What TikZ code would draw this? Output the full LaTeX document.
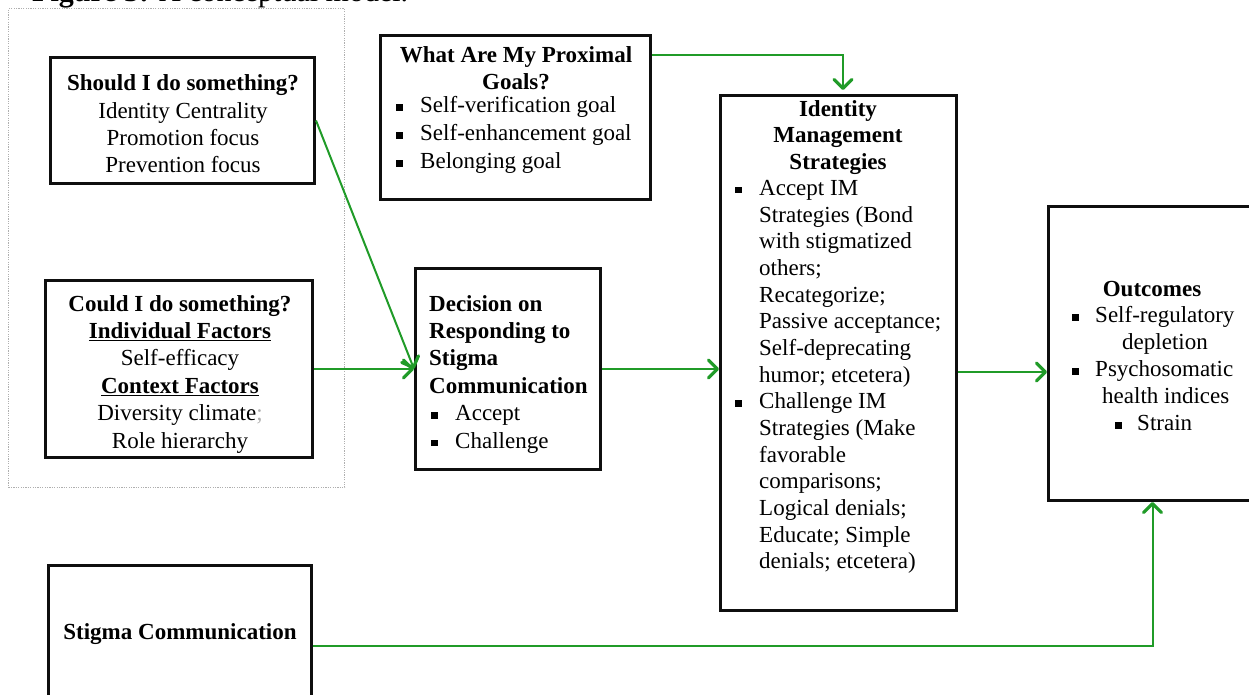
\documentclass[tikz,border=0pt]{standalone}
\usepackage{fontspec}
\setmainfont{Liberation Serif}
\usetikzlibrary{arrows.meta,calc}

\definecolor{flow}{RGB}{32,155,40}
\definecolor{frameline}{RGB}{15,15,15}
\definecolor{faint}{RGB}{175,175,175}

% square bullet, bullet item with hanging text, continuation indent
\newcommand\sqbul{\rule[2pt]{6.5pt}{6.5pt}}
\newcommand\itm{\makebox[24pt][l]{\sqbul}}
\newcommand\ind{\hspace*{24pt}}
% bold text with a heavier underline
\newsavebox\ulbox
\newcommand\ulbf[1]{\sbox\ulbox{\bfseries #1}\rlap{\rule[-3pt]{\wd\ulbox}{1.6pt}}\usebox\ulbox}

\begin{document}
\begin{tikzpicture}[x=1pt,y=-1pt,
  box/.style={draw=frameline, line width=3pt, inner sep=0pt},
  txt/.style={inner sep=0pt, font=\fontsize{23}{27.4}\selectfont},
  groupframe/.style={draw=faint, line width=0.9pt, dash pattern=on 1.2pt off 1.2pt, inner sep=0pt},
  flowline/.style={draw=flow, line width=2pt,
    -{Straight Barb[length=9pt,width=18pt,line width=3.2pt,round]}}]

\useasboundingbox (0,0) rectangle (1249,694);
\clip (0,0) rectangle (1249,694);

% caption line
\node[anchor=base west, inner sep=0pt, font=\fontsize{30}{36}\selectfont] (caption) at (32,1.5)
  {\textbf{Figure 3:} A conceptual model.};

% dotted grouping frame around the two antecedent boxes
\node[groupframe, minimum width=336, minimum height=479] (group) at (176.5,248) {};

% boxes
\node[box, minimum width=264, minimum height=126] (should)   at (182.5,120.5) {};
\node[box, minimum width=267, minimum height=177] (could)    at (179,369) {};
\node[box, minimum width=270, minimum height=164] (goals)    at (515.5,117.5) {};
\node[box, minimum width=185, minimum height=201] (decision) at (508,369) {};
\node[box, minimum width=236, minimum height=515] (identity) at (838.5,353) {};
\node[box, minimum width=208, minimum height=294] (outcomes) at (1152.5,353.5) {};
\node[box, minimum width=263, minimum height=135] (stigma)   at (180,633) {};

% box texts
\node[txt, align=center] (shouldtxt) at (183,124) {\textbf{Should I do something?}\\Identity Centrality\\Promotion focus\\Prevention focus};

\node[txt, align=center] (couldtxt) at (180,374) {\textbf{Could I do something?}\\\ulbf{Individual Factors}\\Self-efficacy\\\ulbf{Context Factors}\\Diversity climate{\color{faint};}\\Role hierarchy};

\node[txt, align=center, font=\fontsize{23}{27}\selectfont] (goalstitle) at (516,68) {\textbf{What Are My Proximal}\\\textbf{Goals?}};
\node[txt, align=left, anchor=west, font=\fontsize{23}{28}\selectfont] (goalslist) at (396,135) {\itm Self-verification goal\\\itm Self-enhancement goal\\\itm Belonging goal};

\node[txt, align=left, anchor=west] (decisiontxt) at (429,374) {\textbf{Decision on}\\\textbf{Responding to}\\\textbf{Stigma}\\\textbf{Communication}\\\hspace*{2pt}\itm Accept\\\hspace*{2pt}\itm Challenge};

\node[txt, align=center, font=\fontsize{23}{26.67}\selectfont] (identitytitle) at (838,137.5) {\textbf{Identity}\\\textbf{Management}\\\textbf{Strategies}};
\node[txt, align=left, anchor=west, font=\fontsize{23}{26.67}\selectfont] (identitylist) at (735,377) {\itm Accept IM\\\ind Strategies (Bond\\\ind with stigmatized\\\ind others;\\\ind Recategorize;\\\ind Passive acceptance;\\\ind Self-deprecating\\\ind humor; etcetera)\\\itm Challenge IM\\\ind Strategies (Make\\\ind favorable\\\ind comparisons;\\\ind Logical denials;\\\ind Educate; Simple\\\ind denials; etcetera)};

\node[txt] (outcomestitle) at (1152,289) {\textbf{Outcomes}};
\node[txt, align=left, anchor=west, font=\fontsize{23}{27}\selectfont] (outcomeslist) at (1072,369) {\makebox[23pt][l]{\sqbul}Self-regulatory\\\hspace*{50pt}depletion\\\makebox[23pt][l]{\sqbul}Psychosomatic\\\hspace*{30pt}health indices\\\hspace*{43pt}\makebox[22pt][l]{\sqbul}Strain};

\node[txt] (stigmatxt) at (180,634) {\textbf{Stigma Communication}};

% connectors
\coordinate (goalsout) at ($(goals.north east)+(0,21)$);
\coordinate (identityin) at ($(identity.north)+(4.5,0)$);
\draw[flowline, shorten >=4pt] (goalsout) -| (identityin);

\draw[flowline] (should.east) -- (decision.west);
\draw[flowline] (could.east) -- (could.east -| decision.west);
\draw[flowline] (decision.east) -- (decision.east -| identity.west);

\coordinate (imout) at ($(identity.east)+(0,19)$);
\draw[flowline] (imout) -- (imout -| outcomes.west);

\coordinate (stout) at ($(stigma.east)+(0,13)$);
\draw[flowline] (stout) -| (outcomes.south);

\end{tikzpicture}
\end{document}
